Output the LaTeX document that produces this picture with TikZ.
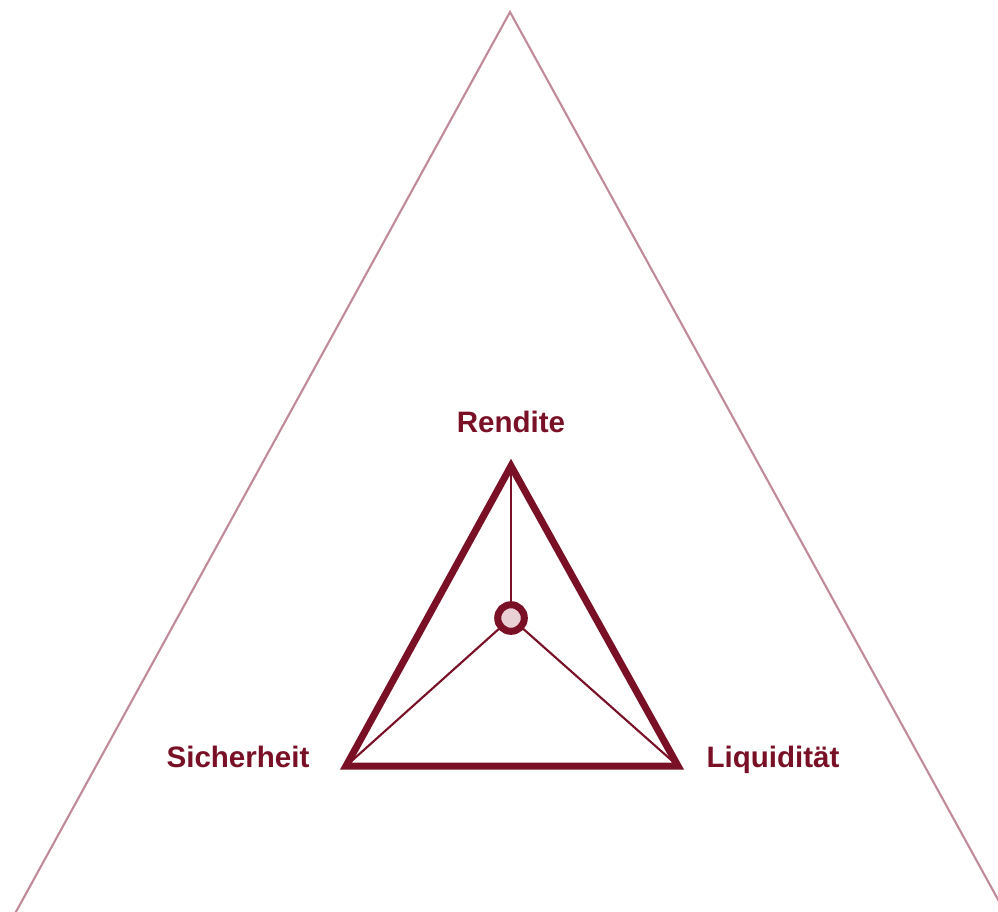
\documentclass[tikz,border=0pt]{standalone}
\usepackage{fontspec}
\setmainfont{Liberation Sans}
\usepackage{xcolor}
\definecolor{zielred}{RGB}{122,16,38}
\definecolor{zielrose}{RGB}{192,138,152}
\definecolor{zielpink}{RGB}{232,208,212}
\tikzset{
  ziellabel/.style={text=zielred,font=\fontsize{8.4}{10}\selectfont\bfseries,inner sep=0pt,anchor=base},
  zielspoke/.style={zielred,line width=0.6pt}
}
\begin{document}
\begin{tikzpicture}[x=0.01cm,y=-0.01cm]
  \useasboundingbox (0,0) rectangle (998,911);
  \clip (0,0) rectangle (998,911);
  % outer triangle
  \coordinate (top) at (510,12);
  \draw[zielrose,line width=0.6pt] (-50,1032) -- (top) -- (1078,1045);
  % inner triangle
  \coordinate (ren) at (511,466);
  \coordinate (sic) at (346,766);
  \coordinate (liq) at (678,766);
  \coordinate (mid) at (511,618);
  \draw[zielspoke] (ren) -- (mid); \draw[zielspoke] (sic) -- (mid); \draw[zielspoke] (liq) -- (mid);
  \draw[zielred,line width=2pt,miter limit=10] (ren) -- (sic) -- (liq) -- cycle;
  \draw[zielred,fill=zielpink,line width=2pt] (mid) circle (13.3);
  \node[ziellabel] (rendite) at (511,432) {Rendite};
  \node[ziellabel] (sicherheit) at (238,767) {Sicherheit};
  \node[ziellabel] (liquiditaet) at (773,767) {Liquidität};
\end{tikzpicture}
\end{document}
